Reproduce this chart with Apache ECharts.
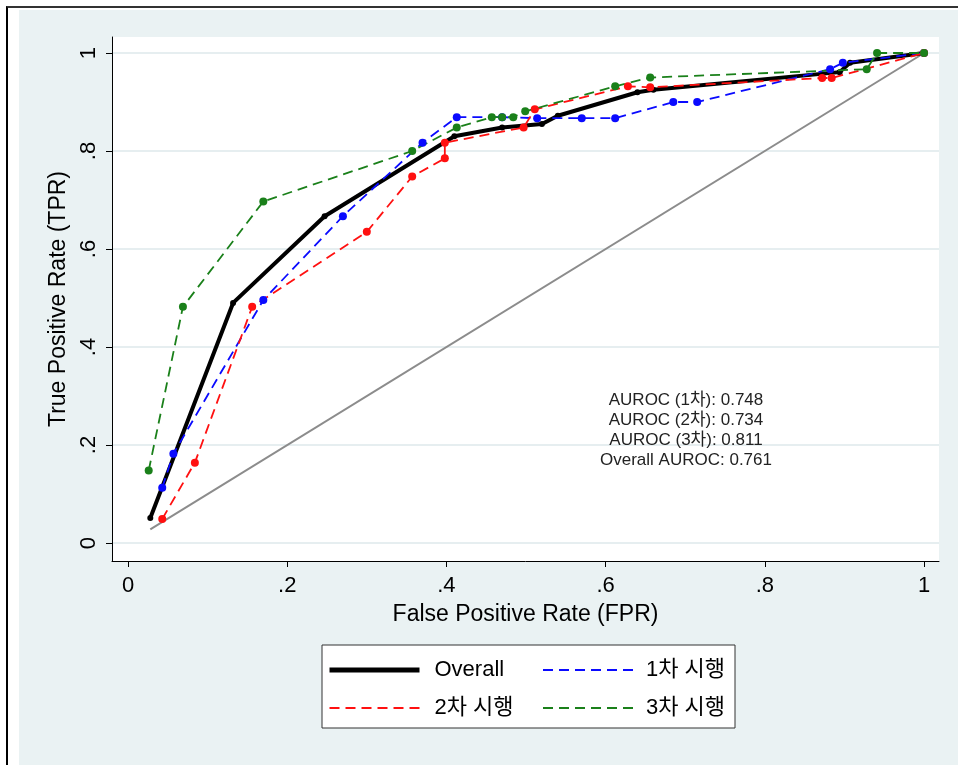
<!DOCTYPE html>
<html>
<head>
<meta charset="utf-8">
<script src="https://cdn.jsdelivr.net/npm/echarts@6/dist/echarts.min.js"></script>
<style>
html, body { margin: 0; padding: 0; background: #fff; }
#bg { position: absolute; left: 19px; top: 10px; width: 939px; height: 755px; background: #eaf2f3; }
#frame { position: absolute; left: 6px; top: 6px; width: 952px; height: 759px; border-left: 2px solid #000; border-top: 2px solid #333; box-sizing: border-box; }
#main { position: absolute; left: 0; top: 0; width: 958px; height: 765px; }
</style>
</head>
<body>
<div id="frame"></div>
<div id="bg"></div>
<div id="main"></div>
<script>
var tickValues = [0, 0.2, 0.4, 0.6, 0.8, 1];
var seriesNames = ['Overall', '1차 시행', '2차 시행', '3차 시행'];
var aurocLines = ['AUROC (1차): 0.748', 'AUROC (2차): 0.734', 'AUROC (3차): 0.811', 'Overall AUROC: 0.761'];

var refFpr = [0.028, 1];
var refTpr = [0.028, 1];

var overallFpr = [0.028, 0.132, 0.247, 0.41, 0.47, 0.52, 0.54, 0.64, 0.66, 0.894, 0.907, 1];
var overallTpr = [0.051, 0.49, 0.667, 0.83, 0.848, 0.855, 0.872, 0.92, 0.925, 0.961, 0.98, 1];

var firstFpr = [0.043, 0.057, 0.17, 0.27, 0.37, 0.413, 0.47, 0.514, 0.57, 0.612, 0.685, 0.715, 0.882, 0.898, 1];
var firstTpr = [0.113, 0.182, 0.496, 0.667, 0.817, 0.869, 0.869, 0.867, 0.867, 0.867, 0.9, 0.9, 0.967, 0.98, 1];

var secondFpr = [0.043, 0.084, 0.156, 0.3, 0.357, 0.398, 0.398, 0.497, 0.511, 0.628, 0.656, 0.872, 0.884, 1];
var secondTpr = [0.049, 0.164, 0.482, 0.635, 0.748, 0.785, 0.817, 0.848, 0.885, 0.932, 0.93, 0.949, 0.949, 1];

var thirdFpr = [0.026, 0.069, 0.17, 0.357, 0.413, 0.457, 0.47, 0.484, 0.499, 0.612, 0.656, 0.928, 0.941, 1];
var thirdTpr = [0.148, 0.482, 0.697, 0.8, 0.848, 0.869, 0.869, 0.869, 0.881, 0.932, 0.95, 0.967, 1, 1];

var font = 'Arial, "Liberation Sans", "Noto Sans CJK KR", sans-serif';

var pairs = function(xs, ys) {
    return xs.map(function(x, i) { return [x, ys[i]]; });
};
var tickText = function(v) {
    if (v === 0) return '0';
    if (v === 1) return '1';
    return String(+v.toFixed(1)).replace(/^0/, '');
};
var dashed = function(name, color, xs, ys) {
    return {
        name: name,
        type: 'line',
        data: pairs(xs, ys),
        symbol: 'circle',
        symbolSize: 8,
        itemStyle: { color: color },
        lineStyle: { color: color, width: 1.8, type: [10, 6] },
        z: 4
    };
};

var myChart = echarts.init(document.getElementById('main'));
var option = {
    animation: false,
    textStyle: { fontFamily: font },
    grid: {
        left: 112, top: 37, right: 19, bottom: 204,
        show: true, backgroundColor: '#fff', borderWidth: 0
    },
    xAxis: {
        type: 'value',
        min: -0.0201, max: 1.0188,
        name: 'False Positive Rate (FPR)',
        nameLocation: 'middle',
        nameGap: 42,
        nameTextStyle: { fontSize: 23, color: '#000', fontFamily: font },
        axisLine: { show: true, onZero: false, lineStyle: { color: '#000', width: 1 } },
        axisTick: { show: true, length: 6, customValues: tickValues, lineStyle: { color: '#000' } },
        axisLabel: { customValues: tickValues, formatter: tickText, fontSize: 22, color: '#000', margin: 14 },
        splitLine: { show: false }
    },
    yAxis: {
        type: 'value',
        min: -0.0367, max: 1.0327,
        name: 'True Positive Rate (TPR)',
        nameLocation: 'middle',
        nameRotate: 90,
        nameGap: 38,
        nameTextStyle: { fontSize: 23, color: '#000', fontFamily: font },
        axisLine: { show: true, onZero: false, lineStyle: { color: '#000', width: 1 } },
        axisTick: { show: true, length: 6, customValues: tickValues, lineStyle: { color: '#000' } },
        axisLabel: { customValues: tickValues, formatter: tickText, rotate: 90, fontSize: 22, color: '#000', margin: 12 },
        splitLine: { show: true, lineStyle: { color: '#e6eef0', width: 2 } }
    },
    legend: [{
        data: [{ name: 'Overall', lineStyle: { width: 5 } }, { name: '2차 시행', lineStyle: { width: 2 } }],
        orient: 'vertical',
        left: 327, top: 659,
        itemWidth: 90, itemHeight: 14, itemGap: 16,
        padding: 0,
        itemStyle: { opacity: 0 },
        textStyle: { fontSize: 22, color: '#000', padding: [0, 0, 0, 10] },
        z: 5
    }, {
        data: [{ name: '1차 시행', lineStyle: { width: 2 } }, { name: '3차 시행', lineStyle: { width: 2 } }],
        orient: 'vertical',
        left: 542, top: 659,
        itemWidth: 90, itemHeight: 14, itemGap: 16,
        padding: 0,
        itemStyle: { opacity: 0 },
        textStyle: { fontSize: 22, color: '#000', padding: [0, 0, 0, 8] },
        z: 5
    }],
    graphic: [{
        type: 'rect',
        shape: { x: 322, y: 645, width: 413, height: 83 },
        style: { fill: '#fff', stroke: '#333', lineWidth: 1 },
        z: 1
    }].concat(aurocLines.map(function(t, i) {
        return {
            type: 'text',
            x: 686, y: 400 + i * 20,
            style: { text: t, fill: '#222', font: '17px ' + font, textAlign: 'center', textVerticalAlign: 'middle' },
            z: 10
        };
    })),
    series: [{
        name: 'ref',
        type: 'line',
        data: pairs(refFpr, refTpr),
        symbol: 'none',
        lineStyle: { color: '#8c8c8c', width: 2 },
        z: 2
    }, {
        name: seriesNames[0],
        type: 'line',
        data: pairs(overallFpr, overallTpr),
        symbol: 'circle',
        symbolSize: 6,
        itemStyle: { color: '#000' },
        lineStyle: { color: '#000', width: 4 },
        z: 3
    },
    dashed(seriesNames[1], '#0a0aff', firstFpr, firstTpr),
    dashed(seriesNames[2], '#ff1010', secondFpr, secondTpr),
    dashed(seriesNames[3], '#1a801a', thirdFpr, thirdTpr)
    ]
};
myChart.setOption(option);
</script>
</body>
</html>
